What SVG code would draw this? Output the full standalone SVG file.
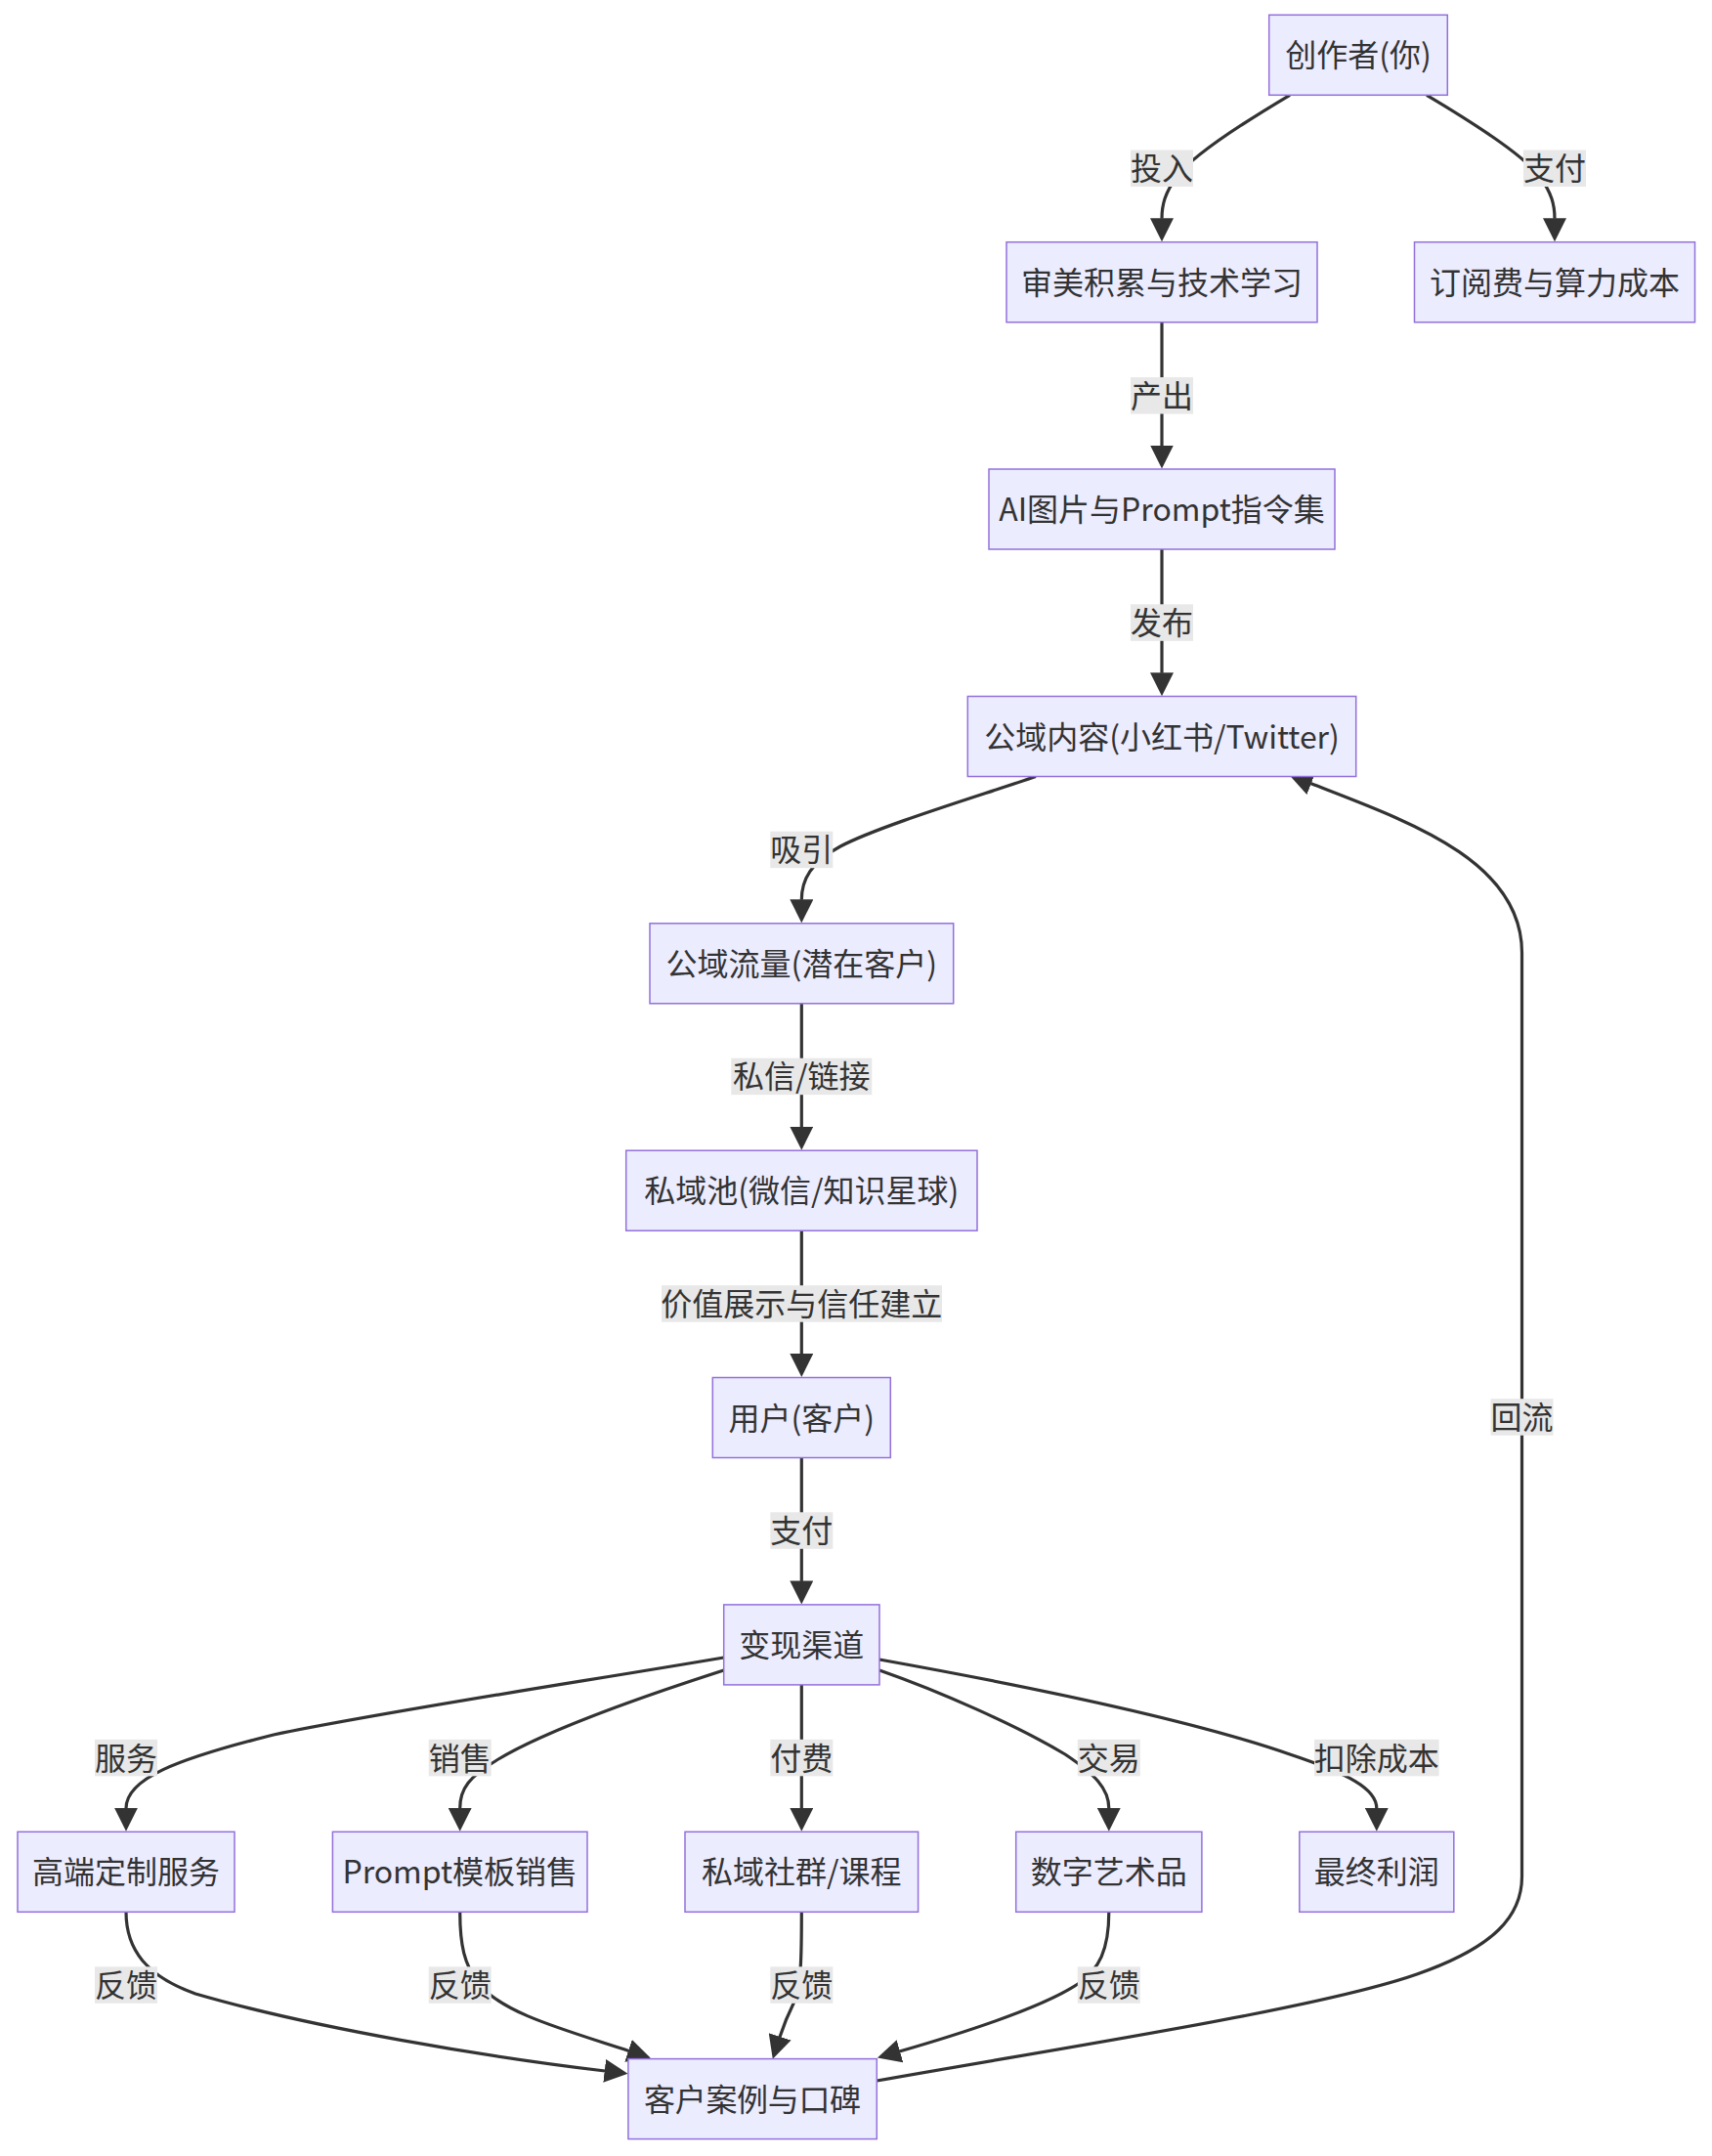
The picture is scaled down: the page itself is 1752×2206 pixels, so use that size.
<svg xmlns="http://www.w3.org/2000/svg" width="1752" height="2206" viewBox="0 0 1752 2206">
<defs>
<style>
.node rect{fill:#ECECFF;stroke:#9370DB;stroke-width:1.5}
text{font-family:"Noto Sans CJK SC","Noto Sans",sans-serif;font-size:32px;fill:#333333;text-anchor:middle;dominant-baseline:central}
.edge{fill:none;stroke:#333333;stroke-width:3.2;marker-end:url(#arr)}
.lbl rect{fill:#e8e8e8}
</style>
<marker id="arr" viewBox="0 0 24 24" markerUnits="userSpaceOnUse" markerWidth="24" markerHeight="24" refX="0.5" refY="12" orient="auto"><path d="M0,0 L24,12 L0,24 z" fill="#333333"/></marker>
</defs>
<rect width="1752" height="2206" fill="#ffffff"/>
<g id="connectors">
<path class="edge" d="M1320,97.3 C1270,127 1220,160 1205,180 C1192,197 1189,210 1189,223.7"/>
<path class="edge" d="M1460,97.3 C1510,127 1560,160 1575,180 C1588,197 1591,210 1591,223.7"/>
<path class="edge" d="M1189,329.7 L1189,456"/>
<path class="edge" d="M1189,562 L1189,688.7"/>
<path class="edge" d="M1060,794.5 C1000,815 900,845 860,866 C830,882 820.3,900 820.3,920.8"/>
<path class="edge" d="M820.3,1026.8 L820.3,1153.2"/>
<path class="edge" d="M820.3,1259.2 L820.3,1385.5"/>
<path class="edge" d="M820.3,1491.5 L820.3,1617.9"/>
<path class="edge" d="M740.7,1696 C600,1720 400,1750 280,1775 C180,1800 129,1820 129,1850.3"/>
<path class="edge" d="M740.7,1709 C660,1735 560,1770 510,1800 C480,1818 470.7,1830 470.7,1850.3"/>
<path class="edge" d="M820.3,1724 L820.3,1850.3"/>
<path class="edge" d="M900,1709 C960,1730 1040,1765 1090,1795 C1120,1815 1134.8,1830 1134.8,1850.3"/>
<path class="edge" d="M900,1698 C1050,1725 1220,1760 1320,1795 C1380,1815 1408.8,1830 1408.8,1850.3"/>
<path class="edge" d="M129,1956.3 C129,1995 150,2022 200,2040 C320,2075 500,2105 619.2,2119"/>
<path class="edge" d="M470.7,1956.3 C470.7,1990 475,2010 490,2030 C515,2060 575,2076 643.5,2098.5"/>
<path class="edge" d="M820.3,1956.3 C820.3,2000 820,2035 812,2050 C806,2062 801,2075 798,2084.3"/>
<path class="edge" d="M1134.8,1956.3 C1134.8,1995 1125,2015 1103,2030 C1070,2052 1000,2076 920.5,2099"/>
<path class="edge" d="M897.3,2129 C1100,2093 1350,2055 1450,2020 C1530,1992 1557.5,1960 1557.5,1920 L1557.5,975 C1557.5,880 1440,840 1341.3,801.6"/>
</g>
<g id="edge-labels">
<g class="lbl"><rect x="1157" y="153.5" width="64" height="37.5"/><text x="1189" y="170.2">投入</text></g>
<g class="lbl"><rect x="1559" y="153.5" width="64" height="37.5"/><text x="1591" y="170.2">支付</text></g>
<g class="lbl"><rect x="1157" y="386" width="64" height="37.5"/><text x="1189" y="402.7">产出</text></g>
<g class="lbl"><rect x="1157" y="618.3" width="64" height="37.5"/><text x="1189" y="635">发布</text></g>
<g class="lbl"><rect x="788.3" y="850.7" width="64" height="37.5"/><text x="820.3" y="867.4">吸引</text></g>
<g class="lbl"><rect x="748.3" y="1082.7" width="144" height="37.5"/><text x="820.3" y="1099.4">私信/链接</text></g>
<g class="lbl"><rect x="677" y="1315.2" width="287" height="37.5"/><text x="820.3" y="1332">价值展示与信任建立</text></g>
<g class="lbl"><rect x="788.3" y="1547.3" width="64" height="37.5"/><text x="820.3" y="1564">支付</text></g>
<g class="lbl"><rect x="97" y="1779.8" width="64" height="37.5"/><text x="129" y="1796.5">服务</text></g>
<g class="lbl"><rect x="438.7" y="1779.8" width="64" height="37.5"/><text x="470.7" y="1796.5">销售</text></g>
<g class="lbl"><rect x="788.3" y="1779.8" width="64" height="37.5"/><text x="820.3" y="1796.5">付费</text></g>
<g class="lbl"><rect x="1102.8" y="1779.8" width="64" height="37.5"/><text x="1134.8" y="1796.5">交易</text></g>
<g class="lbl"><rect x="1345" y="1779.8" width="127.6" height="37.5"/><text x="1408.8" y="1796.5">扣除成本</text></g>
<g class="lbl"><rect x="97" y="2012.3" width="64" height="37.5"/><text x="129" y="2029">反馈</text></g>
<g class="lbl"><rect x="438.7" y="2012.3" width="64" height="37.5"/><text x="470.7" y="2029">反馈</text></g>
<g class="lbl"><rect x="788.3" y="2012.3" width="64" height="37.5"/><text x="820.3" y="2029">反馈</text></g>
<g class="lbl"><rect x="1102.8" y="2012.3" width="64" height="37.5"/><text x="1134.8" y="2029">反馈</text></g>
<g class="lbl"><rect x="1525.5" y="1431.2" width="64" height="37.5"/><text x="1557.5" y="1448">回流</text></g>
</g>
<g id="n1" class="node"><rect x="1298.7" y="15.3" width="182.6" height="82"/><text x="1390" y="54.3">创作者(你)</text></g>
<g id="n2" class="node"><rect x="1030" y="247.7" width="318" height="82"/><text x="1189" y="286.7">审美积累与技术学习</text></g>
<g id="n3" class="node"><rect x="1447.5" y="247.7" width="287" height="82"/><text x="1591" y="286.7">订阅费与算力成本</text></g>
<g id="n4" class="node"><rect x="1012" y="480" width="354" height="82"/><text x="1189" y="519">AI图片与Prompt指令集</text></g>
<g id="n5" class="node"><rect x="990.3" y="712.5" width="397.4" height="82"/><text x="1189" y="751.5">公域内容(小红书/Twitter)</text></g>
<g id="n6" class="node"><rect x="665" y="944.8" width="310.7" height="82"/><text x="820.3" y="983.8">公域流量(潜在客户)</text></g>
<g id="n7" class="node"><rect x="640.7" y="1177.2" width="359.3" height="82"/><text x="820.3" y="1216.2">私域池(微信/知识星球)</text></g>
<g id="n8" class="node"><rect x="729.3" y="1409.5" width="182" height="82"/><text x="820.3" y="1448.5">用户(客户)</text></g>
<g id="n9" class="node"><rect x="740.7" y="1641.9" width="159.3" height="82"/><text x="820.3" y="1680.9">变现渠道</text></g>
<g id="n10" class="node"><rect x="18" y="1874.3" width="222" height="82"/><text x="129" y="1913.3">高端定制服务</text></g>
<g id="n11" class="node"><rect x="340.4" y="1874.3" width="260.6" height="82"/><text x="470.7" y="1913.3">Prompt模板销售</text></g>
<g id="n12" class="node"><rect x="701" y="1874.3" width="238.6" height="82"/><text x="820.3" y="1913.3">私域社群/课程</text></g>
<g id="n13" class="node"><rect x="1039.7" y="1874.3" width="190.2" height="82"/><text x="1134.8" y="1913.3">数字艺术品</text></g>
<g id="n14" class="node"><rect x="1329.8" y="1874.3" width="158" height="82"/><text x="1408.8" y="1913.3">最终利润</text></g>
<g id="n15" class="node"><rect x="642.9" y="2106.6" width="254.4" height="82"/><text x="770.1" y="2145.6" textLength="222" lengthAdjust="spacing">客户案例与口碑</text></g>
</svg>
